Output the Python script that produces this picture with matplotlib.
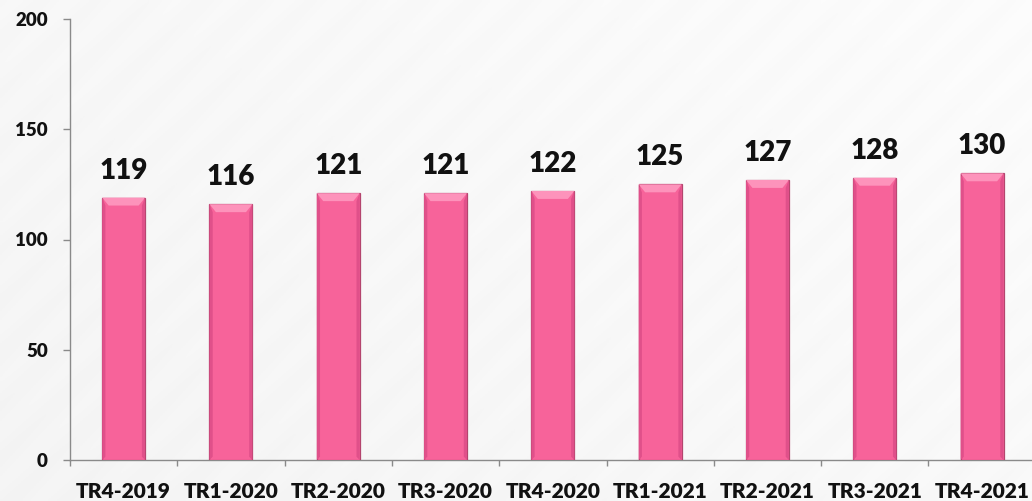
import numpy as np
import matplotlib.pyplot as plt
from matplotlib.patches import Polygon

categories = ["TR4-2019", "TR1-2020", "TR2-2020", "TR3-2020", "TR4-2020",
              "TR1-2021", "TR2-2021", "TR3-2021", "TR4-2021"]
values = [119, 116, 121, 121, 122, 125, 127, 128, 130]
y_ticks = [0, 50, 100, 150, 200]

FONT = ["Lato", "DejaVu Sans"]
WEIGHT = "heavy"
plt.rcParams["font.family"] = FONT

W, H, DPI = 1032, 501, 100
fig = plt.figure(figsize=(W / DPI, H / DPI), dpi=DPI)

# near-white backdrop with a faint diagonal sheen
bg = fig.add_axes([0, 0, 1, 1], zorder=-10)
yy, xx = np.mgrid[0:1:200j, 0:1:400j]
shade = 0.958 + 0.03 * (0.6 * xx + 0.4 * (1 - yy)) + 0.004 * np.sin((xx * 2.0 + yy) * 60)
bg.imshow(np.dstack([shade] * 3).clip(0, 1), aspect="auto", extent=[0, 1, 0, 1], origin="upper")
bg.set_axis_off()

left, right = 70 / W, 1035.7 / W
bottom, top = (H - 460) / H, (H - 19) / H
ax = fig.add_axes([left, bottom, right - left, top - bottom])
ax.patch.set_alpha(0)

x = np.arange(len(categories))
bar_w = 0.40
face = "#F7639A"
edge = "#B4456E"
bars = ax.bar(x, values, width=bar_w, color=face, edgecolor=edge, linewidth=0.9, zorder=3)

# bevelled top and darker flanks for a 3-D look
bev_h = 3.6
bev_x = 0.06
for xi, v in zip(x, values):
    x0, x1 = xi - bar_w / 2, xi + bar_w / 2
    ax.add_patch(Polygon([[x0, v], [x1, v], [x1 - bev_x, v - bev_h], [x0 + bev_x, v - bev_h]],
                         closed=True, facecolor="#FD93BB", edgecolor="none", zorder=4))
    ax.add_patch(Polygon([[x0, v], [x0 + bev_x * 0.5, v - bev_h], [x0 + bev_x * 0.5, 1.5], [x0, 0]],
                         closed=True, facecolor="#E0508A", edgecolor="none", zorder=4))
    ax.add_patch(Polygon([[x1, v], [x1 - bev_x * 0.5, v - bev_h], [x1 - bev_x * 0.5, 1.5], [x1, 0]],
                         closed=True, facecolor="#E0508A", edgecolor="none", zorder=4))
    ax.annotate(f"{v}", (xi, v), xytext=(0, 10), textcoords="offset points",
                ha="center", va="bottom", fontsize=20, fontweight=WEIGHT,
                color="#111111", family=FONT)

ax.set_xlim(-0.5, len(categories) - 0.5)
ax.set_ylim(0, 200)

ax.set_yticks(y_ticks)
ax.set_yticklabels([str(t) for t in y_ticks])
ax.set_xticks(x)
ax.set_xticklabels(categories)
ax.set_xticks(np.arange(-0.5, len(categories) - 0.4, 1.0), minor=True)

for s in ["top", "right"]:
    ax.spines[s].set_visible(False)
for s in ["left", "bottom"]:
    ax.spines[s].set_color("#8A8A8A")
    ax.spines[s].set_linewidth(1.0)

ax.tick_params(axis="y", length=5, width=1.0, color="#8A8A8A", pad=11,
               labelsize=13.5, labelcolor="#111111")
ax.tick_params(axis="x", which="major", length=0, pad=16,
               labelsize=15, labelcolor="#111111")
ax.tick_params(axis="x", which="minor", length=4.5, width=1.0, color="#8A8A8A")
for lbl in ax.get_xticklabels() + ax.get_yticklabels():
    lbl.set_fontweight(WEIGHT)

fig.savefig("out.png", dpi=DPI)
